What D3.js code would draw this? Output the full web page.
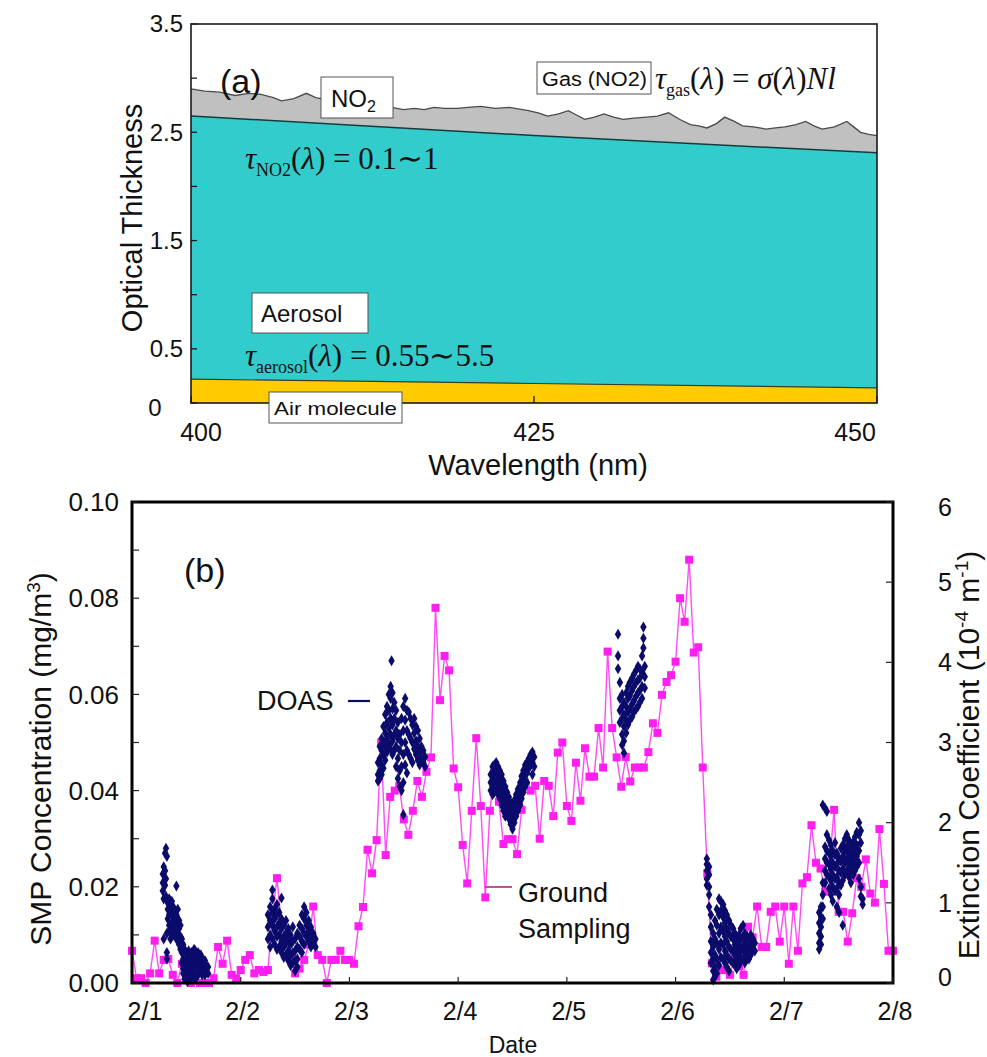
<!DOCTYPE html>
<html>
<head>
<meta charset="utf-8">
<script src="https://cdn.jsdelivr.net/npm/d3@7"></script>
<style>
  body { margin: 0; background: #fff; }
  svg { display: block; font-family: Arial, "Liberation Sans", sans-serif; }
</style>
</head>
<body>
<svg id="chart" width="987" height="1057"></svg>
<script>
// ---------- Panel (a): optical thickness components vs wavelength ----------
const no2Wavelength = [400, 401, 402.1, 403.2, 404.2, 405.1, 406, 406.6, 407.5, 408.4, 409.1, 410, 411, 412, 413, 414,
  414.6, 415.5, 416.3, 417, 417.7, 418.5, 419.4, 420.2, 421.1, 422.2, 423.2, 424.6, 425.3, 426.0, 426.8, 427.5,
  428.1, 428.7, 429.4, 430.1, 430.8, 431.5, 432.3, 433.2, 434.0, 434.8, 435.6, 436.4, 437.0, 437.6, 438.3, 438.9,
  439.6, 440.2, 441.0, 441.9, 442.6, 443.3, 444.1, 444.8, 445.4, 446.0, 446.9, 447.8, 448.3, 448.8, 449.4, 450];
const no2Top = [2.90, 2.88, 2.87, 2.84, 2.86, 2.85, 2.82, 2.79, 2.81, 2.86, 2.82, 2.80, 2.78, 2.77, 2.75, 2.74,
  2.73, 2.71, 2.72, 2.71, 2.73, 2.72, 2.72, 2.73, 2.74, 2.72, 2.73, 2.70, 2.68, 2.65, 2.67, 2.70,
  2.66, 2.62, 2.64, 2.67, 2.64, 2.62, 2.63, 2.64, 2.65, 2.68, 2.62, 2.57, 2.56, 2.54, 2.58, 2.64,
  2.60, 2.56, 2.55, 2.53, 2.54, 2.55, 2.57, 2.60, 2.56, 2.53, 2.55, 2.60, 2.55, 2.50, 2.48, 2.47];
const layerWavelength = [400, 425, 450];
const aerosolTop = [2.65, 2.47, 2.31];
const airTop = [0.22, 0.18, 0.14];
const aTickValues = [0, 0.5, 1, 1.5, 2, 2.5, 3, 3.5];
const aTickLabels = ["0", "0.5", "", "1.5", "", "2.5", "", "3.5"];
const wavelengthTicks = [400, 425, 450];

// ---------- Panel (b): SMP concentration and extinction, 2/1 - 2/8 ----------
const dateLabels = ["2/1", "2/2", "2/3", "2/4", "2/5", "2/6", "2/7", "2/8"];
const smpTicks = [0, 0.02, 0.04, 0.06, 0.08, 0.10];
const extTicks = [0, 1, 2, 3, 4, 5, 6];
// hourly ground sampling, starting 2/1 00:00 (mg/m3)
const groundSMP = [
  0.0067, 0.001, 0.001, 0.0, 0.002, 0.0088, 0.002, 0.0048, 0.005, 0.0017, 0.0, 0.004,
  0.001, 0.0, 0.002, 0.0, 0.0, 0.0, 0.001, 0.0075, 0.004, 0.0088, 0.0017, 0.001,
  0.0027, 0.0048, 0.0058, 0.002, 0.0027, 0.0023, 0.0027, 0.0138, 0.0218, 0.012, 0.009, 0.005,
  0.002, 0.003, 0.0048, 0.008, 0.0159, 0.0058, 0.0048, 0.0, 0.0048, 0.0048, 0.0067, 0.0048,
  0.0048, 0.004, 0.0118, 0.0158, 0.0277, 0.0228, 0.0297, 0.050, 0.0266, 0.0387, 0.040, 0.041,
  0.034, 0.0308, 0.0358, 0.042, 0.0387, 0.0439, 0.0469, 0.078, 0.0588, 0.068, 0.065, 0.0446,
  0.0407, 0.0287, 0.0207, 0.0358, 0.0509, 0.0368, 0.0178, 0.0358, 0.044, 0.0377, 0.0289, 0.0299,
  0.0299, 0.0268, 0.036, 0.044, 0.040, 0.041, 0.030, 0.042, 0.041, 0.0347, 0.0479, 0.050,
  0.0368, 0.0337, 0.0458, 0.0379, 0.0488, 0.0429, 0.0429, 0.053, 0.0448, 0.0689, 0.053, 0.0469,
  0.0408, 0.047, 0.0419, 0.0448, 0.0448, 0.0448, 0.048, 0.054, 0.052, 0.0599, 0.0626, 0.064,
  0.0668, 0.080, 0.0751, 0.088, 0.0687, 0.0698, 0.0448, 0.0228, 0.0041, 0.0013, 0.0027, 0.0027,
  0.0017, 0.0055, 0.0035, 0.0017, 0.0117, 0.0095, 0.0159, 0.0075, 0.0075, 0.0148, 0.0159, 0.0086,
  0.0159, 0.004, 0.0159, 0.0067, 0.0207, 0.022, 0.0328, 0.025, 0.0238, 0.019, 0.025, 0.036,
  0.0148, 0.0148, 0.0086, 0.0145, 0.0218, 0.02, 0.0257, 0.0186, 0.0167, 0.032, 0.0206, 0.0067,
  0.0067];
// DOAS extinction (1e-4 m-1): each row is [hour since 2/1 00:00, readings...]
const doasFeb1 = [
  [6.8, 1.25, 1.36, 1.15], [7.0, 1.05, 0.55, 1.45], [7.3, 1.62, 1.40, 1.22], [7.5, 1.68, 1.30, 1.08],
  [7.7, 1.58, 0.62, 0.38, 0.30], [7.9, 1.00, 0.92, 0.80], [8.2, 1.05, 0.85, 0.72, 0.65], [8.5, 0.98, 0.88, 0.66, 0.55],
  [8.8, 1.02, 0.75, 0.62], [9.1, 0.95, 0.82, 0.70, 0.60], [9.4, 0.90, 0.78, 0.65], [9.8, 1.21, 0.85, 0.72, 0.55],
  [10.1, 0.92, 0.80, 0.62], [10.4, 0.78, 0.68, 0.48], [10.7, 0.72, 0.58, 0.42], [11.0, 0.55, 0.38, 0.25],
  [11.3, 0.48, 0.30, 0.18, 0.12], [11.6, 0.42, 0.22, 0.05], [11.9, 0.38, 0.28, 0.15], [12.2, 0.35, 0.20, 0.02],
  [12.5, 0.40, 0.25, 0.10], [12.8, 0.32, 0.18, 0.05], [13.1, 0.38, 0.25, 0.12], [13.4, 0.35, 0.22, 0.08],
  [13.7, 0.42, 0.30, 0.15], [14.0, 0.40, 0.26, 0.05], [14.3, 0.36, 0.22, 0.12], [14.6, 0.38, 0.25, 0.10],
  [14.9, 0.32, 0.20], [15.2, 0.35, 0.28, 0.15], [15.5, 0.30, 0.22, 0.10], [15.8, 0.25, 0.18],
  [16.1, 0.28, 0.18, 0.10], [16.4, 0.22, 0.15], [16.8, 0.20, 0.12]];
const doasFeb2 = [
  [30.0, 0.85, 0.70, 0.55], [30.5, 0.95, 0.78, 0.60, 0.45], [31.0, 1.16, 1.05, 0.88, 0.72, 0.55],
  [31.5, 0.92, 0.80, 0.65, 0.48], [32.0, 0.98, 0.85, 0.70, 0.58, 0.42], [32.5, 0.88, 0.75, 0.60, 0.45],
  [33.0, 1.06, 0.80, 0.68, 0.52, 0.38], [33.5, 0.72, 0.58, 0.45, 0.32], [34.0, 0.78, 0.62, 0.50, 0.35],
  [34.5, 0.68, 0.55, 0.40, 0.28], [35.0, 0.60, 0.48, 0.35, 0.22], [35.5, 0.70, 0.52, 0.38, 0.25],
  [36.0, 0.55, 0.40, 0.28, 0.15], [36.5, 0.62, 0.45, 0.30, 0.20], [37.0, 0.72, 0.58, 0.42],
  [37.5, 0.85, 0.68, 0.52, 0.38], [38.0, 0.95, 0.80, 0.62, 0.48], [38.5, 0.88, 0.72, 0.58],
  [39.0, 0.78, 0.65, 0.52], [39.5, 0.70, 0.58, 0.45], [40.0, 0.62, 0.50], [40.5, 0.55, 0.45]];
const doasFeb3 = [
  [54.3, 2.75, 2.60, 2.52], [54.7, 2.95, 2.80, 2.65, 2.55], [55.1, 3.05, 2.90, 2.72, 2.60],
  [55.5, 3.20, 3.00, 2.85, 2.68], [55.9, 3.35, 3.12, 2.95, 2.78], [56.3, 3.45, 3.25, 3.05, 2.88],
  [56.7, 3.60, 3.40, 3.18, 2.98], [57.1, 3.70, 3.55, 3.30, 3.10, 2.92], [57.3, 4.02],
  [57.5, 3.62, 3.42, 3.22, 3.02, 2.85], [57.9, 3.50, 3.30, 3.10, 2.90], [58.3, 3.40, 3.15, 2.95, 2.70],
  [58.7, 3.25, 3.05, 2.80, 2.55], [59.1, 3.10, 2.90, 2.65, 2.45], [59.5, 3.30, 3.00, 2.70, 2.40],
  [59.9, 3.45, 3.15, 2.85, 2.50, 2.10], [60.3, 3.55, 3.28, 3.00, 2.72], [60.7, 3.40, 3.15, 2.90, 2.62],
  [61.1, 3.38, 3.10, 2.85], [61.5, 3.30, 3.05, 2.80], [61.9, 3.22, 3.00, 2.75], [62.3, 3.30, 3.12, 2.92],
  [62.7, 3.20, 3.02, 2.85], [63.1, 3.15, 2.95, 2.78], [63.5, 3.05, 2.88, 2.72], [63.9, 2.95, 2.80],
  [64.3, 2.90, 2.75], [64.7, 2.82, 2.70]];
const doasFeb4 = [
  [79.2, 2.60, 2.50, 2.40], [79.6, 2.70, 2.58, 2.45, 2.35], [80.0, 2.72, 2.62, 2.50, 2.38],
  [80.4, 2.75, 2.65, 2.52, 2.40], [80.8, 2.70, 2.60, 2.48, 2.35], [81.2, 2.65, 2.55, 2.42, 2.30],
  [81.6, 2.60, 2.48, 2.35, 2.22], [82.0, 2.52, 2.40, 2.28, 2.15], [82.4, 2.45, 2.32, 2.20, 2.08],
  [82.8, 2.38, 2.25, 2.12], [83.2, 2.32, 2.18, 2.05], [83.6, 2.25, 2.12, 1.98], [84.0, 2.20, 2.05, 1.92],
  [84.4, 2.28, 2.12, 2.00], [84.8, 2.35, 2.20, 2.08], [85.2, 2.42, 2.28, 2.15], [85.7, 2.50, 2.35, 2.22],
  [86.0, 2.58, 2.45, 2.30], [86.4, 2.65, 2.52, 2.38], [86.8, 2.72, 2.60, 2.45], [87.2, 2.75, 2.62, 2.50],
  [87.6, 2.80, 2.68], [88.0, 2.85, 2.72], [88.4, 2.88, 2.75, 2.60], [88.8, 2.82, 2.70]];
const doasFeb5 = [
  [107.3, 4.35, 4.08, 3.92], [107.7, 3.75, 3.55, 3.40, 3.25], [108.2, 3.60, 3.45, 3.30, 3.10, 2.97],
  [108.6, 3.50, 3.35, 3.20, 3.02, 2.87], [109.1, 3.62, 3.45, 3.28, 3.12], [109.5, 3.70, 3.55, 3.38, 3.22],
  [109.9, 3.75, 3.58, 3.42, 3.28], [110.4, 3.80, 3.65, 3.48, 3.32], [110.8, 3.85, 3.70, 3.52, 3.38],
  [111.3, 3.90, 3.75, 3.58, 3.42], [111.7, 3.95, 3.78, 3.62, 3.45], [112.1, 3.92, 3.80, 3.65, 3.50],
  [112.6, 4.08, 3.88, 3.70, 3.55], [112.9, 4.44, 4.30, 4.18], [113.2, 3.95, 3.82, 3.68]];
const doasFeb6 = [
  [126.9, 1.55, 1.48, 1.40, 1.30, 1.22], [127.4, 1.45, 1.35, 1.20, 1.10, 0.95], [127.8, 0.85, 0.70, 0.52, 0.38, 0.25],
  [128.3, 0.62, 0.45, 0.30, 0.15, 0.04], [128.7, 0.78, 0.55, 0.35, 0.20, 0.08], [129.1, 0.92, 0.72, 0.50, 0.30, 0.12],
  [129.6, 1.05, 0.85, 0.62, 0.42, 0.22], [130.0, 1.02, 0.90, 0.70, 0.50, 0.32], [130.5, 0.98, 0.82, 0.65, 0.48, 0.30],
  [130.9, 0.90, 0.75, 0.58, 0.40, 0.25], [131.3, 0.85, 0.68, 0.52, 0.35, 0.20], [131.8, 0.78, 0.62, 0.45, 0.30, 0.15],
  [132.2, 0.72, 0.58, 0.42, 0.28], [132.7, 0.68, 0.55, 0.40, 0.25], [133.1, 0.62, 0.48, 0.35, 0.22],
  [133.5, 0.55, 0.42, 0.30, 0.18], [134.0, 0.60, 0.48, 0.35, 0.22], [134.4, 0.68, 0.55, 0.40, 0.28],
  [134.9, 0.72, 0.58, 0.45, 0.30], [135.3, 0.62, 0.50, 0.38, 0.25], [135.8, 0.58, 0.45, 0.32],
  [136.2, 0.55, 0.42, 0.30], [136.6, 0.60, 0.48, 0.35], [137.1, 0.55, 0.42], [137.5, 0.50, 0.40]];
const doasFeb7 = [
  [151.7, 0.88, 0.75, 0.62, 0.50, 0.42], [152.1, 0.95, 0.82, 0.70, 0.58, 0.48], [152.5, 2.22, 1.25, 1.10, 0.95, 0.80],
  [153.0, 2.18, 1.70, 1.55, 1.40, 1.25], [153.4, 2.14, 1.85, 1.65, 1.50, 1.35], [153.9, 1.78, 1.62, 1.48, 1.32, 1.18],
  [154.3, 1.72, 1.58, 1.42, 1.28, 1.10], [154.7, 1.65, 1.50, 1.35, 1.20, 1.02], [155.2, 1.75, 1.60, 1.45, 1.30, 1.15],
  [155.6, 1.62, 1.48, 1.32, 1.18, 0.95], [156.1, 1.55, 1.40, 1.25, 1.10, 0.88], [156.5, 1.68, 1.52, 1.38, 1.22],
  [156.9, 1.72, 1.58, 1.42, 1.28, 0.72], [157.4, 1.80, 1.65, 1.50, 1.35], [157.8, 1.85, 1.70, 1.55, 1.40],
  [158.3, 1.78, 1.62, 1.48, 1.32], [158.7, 1.70, 1.55, 1.40, 1.25], [159.2, 1.75, 1.62, 1.48, 1.35],
  [159.6, 1.82, 1.68, 1.55, 1.40], [160.0, 1.88, 1.72, 1.58, 1.45], [160.5, 2.00, 1.85, 1.65, 1.50, 1.30],
  [160.9, 1.90, 1.75, 1.20, 1.08], [161.3, 1.05, 0.98]];

const svg = d3.select("#chart");

// ================= Panel (a) =================
const xA = d3.scaleLinear().domain([400, 450]).range([191, 877]);
const yA = d3.scaleLinear().domain([0, 3.5]).range([403, 24]);
const gA = svg.append("g");

const areaFrom = (wl, top) => d3.area()
  .x((d, i) => xA(wl[i])).y0(yA(0)).y1((d) => yA(d))(top);
const lineFrom = (wl, top) => d3.line()
  .x((d, i) => xA(wl[i])).y((d) => yA(d))(top);

gA.append("path").attr("d", areaFrom(no2Wavelength, no2Top)).attr("fill", "#c0c0c0");
gA.append("path").attr("d", lineFrom(no2Wavelength, no2Top)).attr("fill", "none")
  .attr("stroke", "#4a4a4a").attr("stroke-width", 1.3);
gA.append("path").attr("d", areaFrom(layerWavelength, aerosolTop)).attr("fill", "#33cccc");
gA.append("path").attr("d", lineFrom(layerWavelength, aerosolTop)).attr("fill", "none")
  .attr("stroke", "#153c3c").attr("stroke-width", 1.5);
gA.append("path").attr("d", areaFrom(layerWavelength, airTop)).attr("fill", "#ffcc00");
gA.append("path").attr("d", lineFrom(layerWavelength, airTop)).attr("fill", "none")
  .attr("stroke", "#3c3c20").attr("stroke-width", 1.2);

// frame
gA.append("rect").attr("x", xA(400)).attr("y", yA(3.5))
  .attr("width", xA(450) - xA(400)).attr("height", yA(0) - yA(3.5))
  .attr("fill", "none").attr("stroke", "#1a1a1a").attr("stroke-width", 1.6);

// y ticks (inward) and labels
gA.selectAll(".ytA").data(aTickValues).join("line")
  .attr("x1", xA(400)).attr("x2", xA(400) + 6)
  .attr("y1", (d) => yA(d)).attr("y2", (d) => yA(d))
  .attr("stroke", "#1a1a1a").attr("stroke-width", 1.3);
gA.selectAll(".ylA").data(aTickValues.filter((d, i) => aTickLabels[i] && d > 0)).join("text")
  .attr("x", xA(400) - 8).attr("y", (d) => yA(d)).attr("dy", "0.35em")
  .attr("text-anchor", "end").attr("font-size", 24).attr("fill", "#111")
  .text((d) => aTickLabels[aTickValues.indexOf(d)]);
gA.append("text").attr("x", xA(400) - 36).attr("y", yA(0) + 5).attr("dy", "0.35em")
  .attr("text-anchor", "middle").attr("font-size", 24).attr("fill", "#111").text(aTickLabels[0]);

// x ticks and labels
const aLabelShift = [10, 0, -22];
gA.selectAll(".xtA").data(wavelengthTicks).join("line")
  .attr("x1", (d) => xA(d)).attr("x2", (d) => xA(d))
  .attr("y1", yA(0)).attr("y2", yA(0) - 7)
  .attr("stroke", "#1a1a1a").attr("stroke-width", 1.3);
gA.selectAll(".xlA").data(wavelengthTicks).join("text")
  .attr("x", (d, i) => xA(d) + aLabelShift[i]).attr("y", 432).attr("dy", "0.35em")
  .attr("text-anchor", "middle").attr("font-size", 25).attr("fill", "#111")
  .text((d) => d);

// axis titles
gA.append("text").attr("transform", "translate(142,218) rotate(-90)")
  .attr("text-anchor", "middle").attr("font-size", 29).attr("fill", "#111").text("Optical Thickness");
gA.append("text").attr("x", 538).attr("y", 475)
  .attr("text-anchor", "middle").attr("font-size", 29).attr("fill", "#111").text("Wavelength (nm)");

// annotations
gA.append("text").attr("x", 220).attr("y", 93).attr("font-size", 34).attr("fill", "#111").text("(a)");

function boxLabel(g, x, y, w, h) {
  g.append("rect").attr("x", x).attr("y", y).attr("width", w).attr("height", h)
    .attr("fill", "#fff").attr("stroke", "#555").attr("stroke-width", 1);
}
boxLabel(gA, 321, 77, 72, 41);
const no2Lbl = gA.append("text").attr("x", 331).attr("y", 107).attr("font-size", 24).attr("fill", "#111");
no2Lbl.append("tspan").text("NO");
no2Lbl.append("tspan").attr("font-size", 16).attr("dy", 5).text("2");

boxLabel(gA, 537, 62, 114, 32);
gA.append("text").attr("x", 542).attr("y", 86).attr("font-size", 20).attr("fill", "#111")
  .attr("textLength", 105).attr("lengthAdjust", "spacingAndGlyphs").text("Gas (NO2)");

const serif = "'Liberation Serif','Times New Roman',Times,serif";
function tauText(g, x, y, sub, rest) {
  const t = g.append("text").attr("x", x).attr("y", y).attr("font-family", serif)
    .attr("font-size", 31).attr("fill", "#111");
  t.append("tspan").attr("font-style", "italic").text("τ");
  t.append("tspan").attr("font-size", 18).attr("dy", 7).text(sub);
  t.append("tspan").attr("dy", -7).text("(");
  t.append("tspan").attr("font-style", "italic").text("λ");
  t.append("tspan").text(")");
  rest(t);
  return t;
}
tauText(gA, 655, 89, "gas", (t) => {
  t.append("tspan").text(" = ");
  t.append("tspan").attr("font-style", "italic").text("σ");
  t.append("tspan").text("(");
  t.append("tspan").attr("font-style", "italic").text("λ");
  t.append("tspan").text(")");
  t.append("tspan").attr("font-style", "italic").text("Nl");
});
tauText(gA, 245, 169, "NO2", (t) => { t.append("tspan").text(" = 0.1∼1"); });

boxLabel(gA, 252, 293, 116, 40);
gA.append("text").attr("x", 261).attr("y", 322).attr("font-size", 24).attr("fill", "#111").text("Aerosol");
tauText(gA, 245, 366, "aerosol", (t) => { t.append("tspan").text(" = 0.55∼5.5"); });

boxLabel(gA, 269, 392, 133, 31);
gA.append("text").attr("x", 274).attr("y", 415).attr("font-size", 19).attr("fill", "#111")
  .attr("textLength", 123).attr("lengthAdjust", "spacingAndGlyphs").text("Air molecule");

// ================= Panel (b) =================
const xB = d3.scaleLinear().domain([0, 168]).range([132, 893]);
const yL = d3.scaleLinear().domain([0, 0.1]).range([983, 502]);
const yR = d3.scaleLinear().domain([0, 6]).range([983, 502]);
const gB = svg.append("g");

const ground = groundSMP.map((v, i) => ({ h: i, v }));
const doas = [doasFeb1, doasFeb2, doasFeb3, doasFeb4, doasFeb5, doasFeb6, doasFeb7]
  .flat().flatMap((row) => row.slice(1).map((v) => ({ h: row[0], v })));

gB.append("path").datum(ground)
  .attr("d", d3.line().x((d) => xB(d.h)).y((d) => yL(d.v)))
  .attr("fill", "none").attr("stroke", "#ff4cf5").attr("stroke-width", 1.4);
gB.selectAll(".gs").data(ground).join("rect")
  .attr("x", (d) => xB(d.h) - 4).attr("y", (d) => yL(d.v) - 4)
  .attr("width", 8).attr("height", 8).attr("fill", "#ff1ef0");
const diamond = d3.symbol().type(d3.symbolDiamond).size(36);
gB.selectAll(".ds").data(doas).join("path")
  .attr("d", diamond).attr("transform", (d) => `translate(${xB(d.h)},${yR(d.v)})`)
  .attr("fill", "#0b0b6c");

// frame
gB.append("rect").attr("x", 132).attr("y", 502).attr("width", 893 - 132).attr("height", 983 - 502)
  .attr("fill", "none").attr("stroke", "#000").attr("stroke-width", 3);

// left axis: minor ticks every 0.01, labels every 0.02
const leftMinor = d3.range(0, 11).map((i) => i / 100);
gB.selectAll(".ltB").data(leftMinor).join("line")
  .attr("x1", 132).attr("x2", 139).attr("y1", (d) => yL(d)).attr("y2", (d) => yL(d))
  .attr("stroke", "#222").attr("stroke-width", 1.2);
gB.selectAll(".llB").data(smpTicks).join("text")
  .attr("x", 119).attr("y", (d) => yL(d)).attr("dy", "0.35em").attr("text-anchor", "end")
  .attr("font-size", 26).attr("fill", "#111").text((d) => d.toFixed(2));

// right axis
gB.selectAll(".rtB").data(extTicks).join("line")
  .attr("x1", 893).attr("x2", 886).attr("y1", (d) => yR(d)).attr("y2", (d) => yR(d))
  .attr("stroke", "#222").attr("stroke-width", 1.2);
gB.selectAll(".rlB").data(extTicks).join("text")
  .attr("x", 938).attr("y", (d) => yR(d) + (d === 0 ? -6 : d === 6 ? 5 : 0)).attr("dy", "0.35em")
  .attr("font-size", 25).attr("fill", "#111").text((d) => d);

// date axis
const dayHours = dateLabels.map((d, i) => i * 24);
gB.selectAll(".btB").data(dayHours).join("line")
  .attr("x1", (d) => xB(d)).attr("x2", (d) => xB(d)).attr("y1", 983).attr("y2", 977)
  .attr("stroke", "#222").attr("stroke-width", 1.2);
gB.selectAll(".blB").data(dayHours).join("text")
  .attr("x", (d, i) => xB(d) + (i === 0 ? 13 : 2)).attr("y", 1011).attr("dy", "0.35em")
  .attr("text-anchor", "middle").attr("font-size", 25).attr("fill", "#111")
  .text((d, i) => dateLabels[i]);

// axis titles
const smpTitle = gB.append("text").attr("transform", "translate(51,759) rotate(-90)")
  .attr("text-anchor", "middle").attr("font-size", 30).attr("fill", "#111");
smpTitle.append("tspan").text("SMP Concentration (mg/m");
smpTitle.append("tspan").attr("font-size", 19).attr("dy", -11).text("3");
smpTitle.append("tspan").attr("dy", 11).text(")");

const extTitle = gB.append("text").attr("transform", "translate(979,755) rotate(-90)")
  .attr("text-anchor", "middle").attr("font-size", 30).attr("fill", "#111");
extTitle.append("tspan").text("Extinction Coefficient (10");
extTitle.append("tspan").attr("font-size", 19).attr("dy", -11).text("-4");
extTitle.append("tspan").attr("dy", 11).text(" m");
extTitle.append("tspan").attr("font-size", 19).attr("dy", -11).text("-1");
extTitle.append("tspan").attr("dy", 11).text(")");

gB.append("text").attr("x", 513).attr("y", 1053).attr("text-anchor", "middle")
  .attr("font-size", 23).attr("fill", "#111").text("Date");

// annotations
gB.append("text").attr("x", 184).attr("y", 582).attr("font-size", 34).attr("fill", "#111").text("(b)");
gB.append("text").attr("x", 257).attr("y", 710).attr("font-size", 27).attr("fill", "#111").text("DOAS");
gB.append("line").attr("x1", 348).attr("x2", 370).attr("y1", 701).attr("y2", 701)
  .attr("stroke", "#0b0b6c").attr("stroke-width", 2.2);
gB.append("line").attr("x1", xB(78)).attr("x2", 512).attr("y1", 887).attr("y2", 887)
  .attr("stroke", "#a8306e").attr("stroke-width", 1.6);
gB.append("text").attr("x", 518).attr("y", 902).attr("font-size", 27).attr("fill", "#111").text("Ground");
gB.append("text").attr("x", 518).attr("y", 938).attr("font-size", 27).attr("fill", "#111").text("Sampling");
</script>
</body>
</html>
